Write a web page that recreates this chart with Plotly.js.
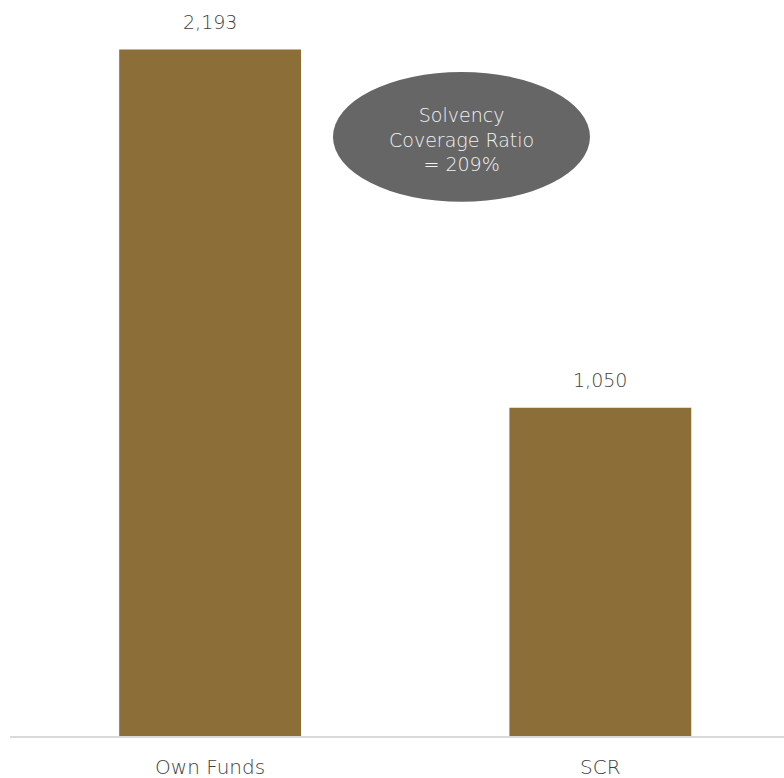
<!DOCTYPE html>
<html>
<head>
<meta charset="utf-8">
<script src="https://cdn.plot.ly/plotly-3.0.1.min.js"></script>
<style>html,body{margin:0;padding:0;background:#fff;}#chart{width:784px;height:778px;}</style>
</head>
<body>
<div id="chart"></div>
<script>
const categories = ["Own Funds", "SCR"];
const values = [2193, 1050];
const valueLabels = ["2,193", "1,050"];
const ratioText = "Solvency<br>Coverage Ratio<br>= 209%";

const font = "'DejaVu Sans', sans-serif";

const trace = {
  type: "bar",
  x: categories,
  y: values,
  width: 0.466,
  marker: {color: "#8C6F38", line: {width: 0}},
  hoverinfo: "skip"
};

const labelAnns = categories.map((c, i) => ({
  x: c, y: values[i], xref: "x", yref: "y",
  text: valueLabels[i], showarrow: false,
  xanchor: "center", yanchor: "bottom", yshift: 15,
  font: {family: font, size: 19, weight: 200, color: "#404040"}
}));

const layout = {
  width: 784, height: 778,
  margin: {l: 15, r: 0, t: 0, b: 40.5},
  paper_bgcolor: "#fff", plot_bgcolor: "#fff",
  showlegend: false,
  xaxis: {
    type: "category", range: [-0.5, 1.4707],
    showgrid: false, zeroline: false, showline: false,
    ticks: "outside", ticklen: 12, tickcolor: "rgba(0,0,0,0)",
    tickfont: {family: font, size: 20, weight: 200, color: "#404040"}
  },
  yaxis: {
    range: [0, 2351], visible: false, showgrid: false, zeroline: false
  },
  shapes: [
    {type: "line", xref: "paper", yref: "paper", x0: -0.0065, x1: 1, y0: 0, y1: 0,
     line: {color: "#d9d9d9", width: 2}},
    {type: "circle", xref: "paper", yref: "paper", x0: 0.4135, x1: 0.7477, y0: 0.7261, y1: 0.9024,
     fillcolor: "#666666", line: {width: 0}}
  ],
  annotations: labelAnns.concat([{
    xref: "paper", yref: "paper", x: 0.5806, y: 0.811,
    xanchor: "center", yanchor: "middle",
    text: ratioText, showarrow: false, align: "center",
    font: {family: font, size: 19, weight: 200, color: "#f2f2f2"}
  }])
};

Plotly.newPlot("chart", [trace], layout, {displayModeBar: false, staticPlot: true});
</script>
</body>
</html>
